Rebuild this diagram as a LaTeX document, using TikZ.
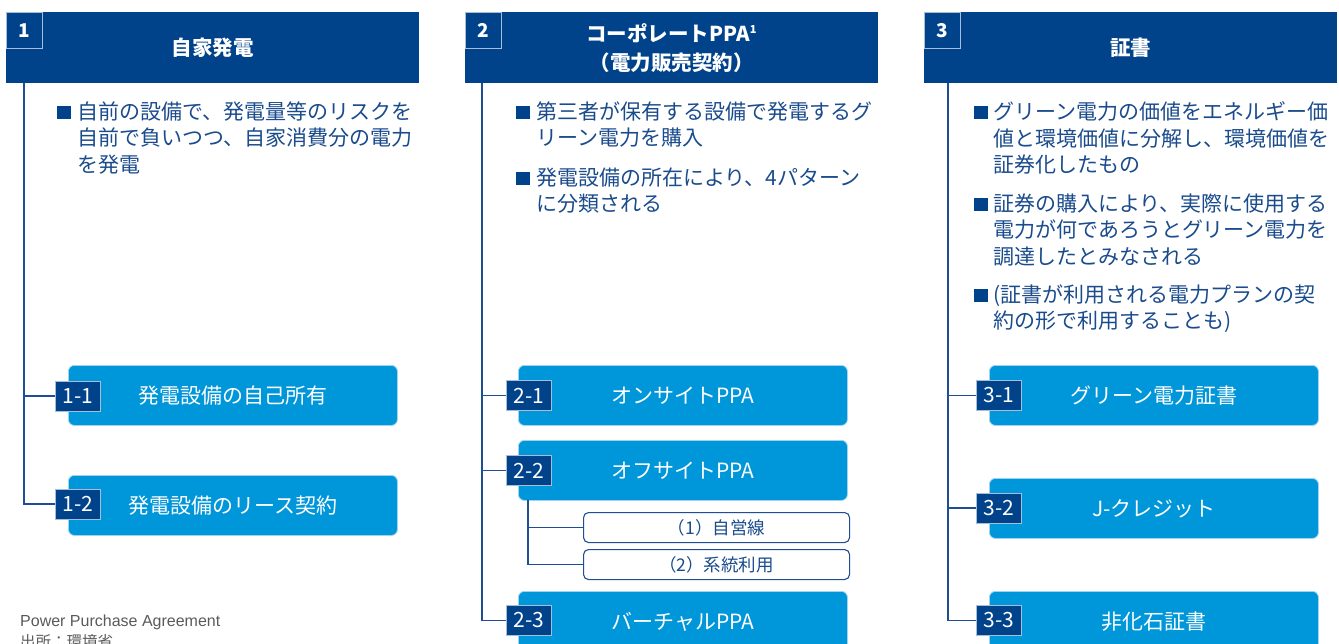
\documentclass[tikz,border=0pt]{standalone}
\usepackage{fontspec}
\setmainfont{Noto Sans CJK JP}
\newfontfamily\notefont{Liberation Sans}
\definecolor{navy}{HTML}{00438B}
\definecolor{sky}{HTML}{0096DA}
\definecolor{skyedge}{HTML}{9FD3F0}
\definecolor{badgeedge}{HTML}{A9BDD9}
\definecolor{txtnavy}{HTML}{1A4B8C}
\definecolor{linenavy}{HTML}{1F4F92}
\definecolor{notegrey}{HTML}{5A5A5A}
\begin{document}
\begin{tikzpicture}[x=1pt,y=-1pt,
  header/.style={fill=navy, draw=none, minimum width=413pt, minimum height=71pt,
    anchor=north west, inner sep=0pt, text=white, align=center,
    font=\bfseries\fontsize{20.5}{29}\selectfont},
  numbadge/.style={fill=navy, draw=badgeedge, line width=1pt, minimum size=36pt,
    anchor=north west, inner sep=0pt, text=white,
    font=\bfseries\fontsize{19}{20}\selectfont},
  subbox/.style={fill=sky, draw=skyedge, line width=0.8pt, rounded corners=6pt,
    minimum width=329pt, minimum height=60pt, anchor=north west, inner sep=0pt,
    text=white, font=\fontsize{21}{24}\selectfont},
  subbadge/.style={fill=navy, draw=badgeedge, line width=0.8pt, minimum width=45pt,
    minimum height=30pt, anchor=west, inner sep=0pt, text=white,
    font=\fontsize{21}{21}\selectfont},
  smallbox/.style={fill=white, draw=linenavy, line width=1.1pt, rounded corners=5pt,
    minimum width=266pt, minimum height=30pt, anchor=north west, inner sep=0pt,
    text=txtnavy, font=\fontsize{17.5}{20}\selectfont},
  sq/.style={fill=navy, minimum size=13.5pt, inner sep=0pt},
  btext/.style={anchor=north west, inner sep=0pt, align=left, text=txtnavy,
    font=\fontsize{21}{26.5}\selectfont},
  conn/.style={draw=linenavy, line width=1.3pt},
  note/.style={anchor=west, inner sep=0pt, text=notegrey, font=\notefont\fontsize{16}{18}\selectfont}
]
\useasboundingbox (0,0) rectangle (1339,643);

% ---------- Column 1 ----------
\node[header] (h1) at (6,12) {自家発電};
\node[numbadge] (n1) at (6,12) {1};
\coordinate (c1) at (24,83);
\node[sq] (s11) at (64,112.5) {};
\node[btext] (t11) at (77,101.5) {自前の設備で、発電量等のリスクを\\自前で負いつつ、自家消費分の電力\\を発電};
\node[subbox] (b11) at (68,365) {発電設備の自己所有};
\node[subbox] (b12) at (68,475) {発電設備のリース契約};
\node[subbadge] (k11) at (55,396) {1-1};
\node[subbadge] (k12) at (55,504) {1-2};
\draw[conn] (c1) |- (k11.west);
\draw[conn] (c1) |- (k12.west);

% ---------- Column 2 ----------
\node[header] (h2) at (465,12) {コーポレートPPA\textsuperscript{\fontsize{11}{11}\selectfont 1}\\（電力販売契約）};
\node[numbadge] (n2) at (465,12) {2};
\coordinate (c2) at (482,83);
\node[sq] (s21) at (523,112.5) {};
\node[btext] (t21) at (536,101.5) {第三者が保有する設備で発電するグ\\リーン電力を購入};
\node[sq] (s22) at (523,178.5) {};
\node[btext] (t22) at (536,167.5) {発電設備の所在により、4パターン\\に分類される};
\node[subbox] (b21) at (518,365) {オンサイトPPA};
\node[subbox] (b22) at (518,440) {オフサイトPPA};
\node[subbox] (b23) at (518,591) {バーチャルPPA};
\node[subbadge] (k21) at (506,395.5) {2-1};
\node[subbadge] (k22) at (506,470.5) {2-2};
\node[subbadge] (k23) at (506,620.5) {2-3};
\draw[conn] (c2) |- (k21.west);
\draw[conn] (c2) |- (k22.west);
\draw[conn] (c2) |- (k23.west);
\node[smallbox] (p1) at (583,512) {（1）自営線};
\node[smallbox] (p2) at (583,549) {（2）系統利用};
\coordinate (c22) at (528,500);
\draw[conn] (c22) |- (p1.west);
\draw[conn] (c22) |- (p2.west);

% ---------- Column 3 ----------
\node[header] (h3) at (924,12) {証書};
\node[numbadge] (n3) at (924,12) {3};
\coordinate (c3) at (948,83);
\node[sq] (s31) at (981,112.5) {};
\node[btext] (t31) at (993,101.5) {グリーン電力の価値をエネルギー価\\値と環境価値に分解し、環境価値を\\証券化したもの};
\node[sq] (s32) at (981,204.5) {};
\node[btext] (t32) at (993,193.5) {証券の購入により、実際に使用する\\電力が何であろうとグリーン電力を\\調達したとみなされる};
\node[sq] (s33) at (981,295.5) {};
\node[btext] (t33) at (993,284.5) {(証書が利用される電力プランの契\\約の形で利用することも)};
\node[subbox] (b31) at (989,365) {グリーン電力証書};
\node[subbox] (b32) at (989,478) {J-クレジット};
\node[subbox] (b33) at (989,591) {非化石証書};
\node[subbadge] (k31) at (976,395.5) {3-1};
\node[subbadge] (k32) at (976,508) {3-2};
\node[subbadge] (k33) at (976,620.5) {3-3};
\draw[conn] (c3) |- (k31.west);
\draw[conn] (c3) |- (k32.west);
\draw[conn] (c3) |- (k33.west);

% ---------- Notes ----------
\node[note] (fn1) at (20,622.5) {Power Purchase Agreement};
\node[note, font=\fontsize{15.5}{18}\selectfont] (fn2) at (20,642) {出所：環境省};
\end{tikzpicture}
\end{document}
